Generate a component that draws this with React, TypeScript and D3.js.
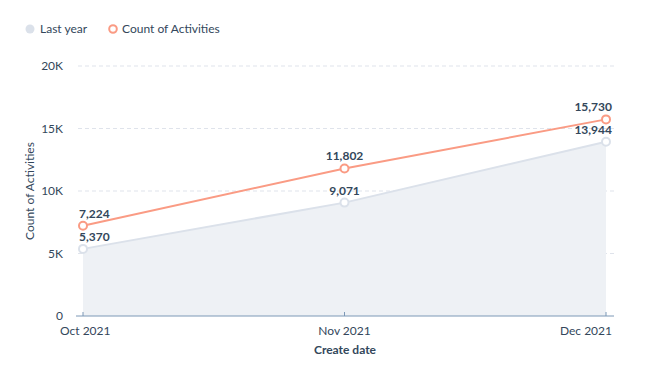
import * as d3 from "d3";

const months = ["Oct 2021", "Nov 2021", "Dec 2021"];
const lastYear = [5370, 9071, 13944];
const activities = [7224, 11802, 15730];
const yTicks = [0, 5000, 10000, 15000, 20000];

const width = 650;
const height = 387;
const font = "Lato, 'Open Sans', sans-serif";
const textColor = "#33475b";
const orange = "#fa9b84";
const grey = "#dbe1ea";

export default function App() {
  const x = d3.scalePoint().domain(months).range([83, 606]);
  const y = d3.scaleLinear().domain([0, 20000]).range([316, 66]);
  const fmtK = (v: number) => (v === 0 ? "0" : `${v / 1000}K`);
  const fmt = d3.format(",");

  const pts = (vals: number[]) => months.map((m, i) => [x(m) as number, y(vals[i])] as [number, number]);
  const line = d3.line();
  const area = d3
    .area<[number, number]>()
    .x((d) => d[0])
    .y0(y(0))
    .y1((d) => d[1]);

  const lyPts = pts(lastYear);
  const acPts = pts(activities);

  return (
    <svg
      width={width}
      height={height}
      style={{ position: "absolute", left: 0, top: 0 }}
      fontFamily={font}
    >
      {/* legend */}
      <g fontSize={12} fill={textColor}>
        <circle cx={30} cy={29} r={4.5} fill={grey} />
        <text x={40} y={33}>Last year</text>
        <circle cx={113} cy={29} r={3.8} fill="#fff" stroke={orange} strokeWidth={2} />
        <text x={122} y={33}>Count of Activities</text>
      </g>

      {/* grid */}
      {yTicks.slice(1).map((t) => (
        <line key={t} x1={78} x2={614} y1={y(t)} y2={y(t)} stroke="#dfe3eb" strokeDasharray="4,3" />
      ))}
      {yTicks.map((t) => (
        <text key={t} x={63} y={y(t) + 4} textAnchor="end" fontSize={12} fill={textColor}>
          {fmtK(t)}
        </text>
      ))}
      <text
        transform={`translate(34,${y(10000)}) rotate(-90)`}
        textAnchor="middle"
        fontSize={12}
        fill={textColor}
      >
        Count of Activities
      </text>

      {/* area & lines */}
      <path d={area(lyPts) ?? ""} fill="#eef1f5" />
      <path d={line(lyPts) ?? ""} fill="none" stroke={grey} strokeWidth={2} />
      <path d={line(acPts) ?? ""} fill="none" stroke={orange} strokeWidth={2} />

      {/* x axis */}
      <line x1={76} x2={614} y1={y(0)} y2={y(0)} stroke="#7c98b6" />
      {months.map((m) => (
        <g key={m}>
          <line x1={x(m)} x2={x(m)} y1={y(0) - 4} y2={y(0)} stroke="#7c98b6" />
          <text
            x={x(m)}
            y={335}
            textAnchor={m === months[0] ? "start" : m === months[2] ? "end" : "middle"}
            dx={m === months[0] ? -23 : m === months[2] ? 6 : 0}
            fontSize={12}
            fill={textColor}
          >
            {m}
          </text>
        </g>
      ))}
      <text x={345} y={354} textAnchor="middle" fontSize={12} fontWeight="bold" fill={textColor}>
        Create date
      </text>

      {/* points & labels */}
      {lyPts.map((p, i) => (
        <g key={"ly" + i}>
          <circle cx={p[0]} cy={p[1]} r={4} fill="#fff" stroke={grey} strokeWidth={2} />
          <text
            x={p[0]}
            y={p[1] - 8}
            textAnchor={i === 0 ? "start" : i === 2 ? "end" : "middle"}
            dx={i === 0 ? -4 : i === 2 ? 6 : 0}
            fontSize={12}
            fontWeight="bold"
            fill={textColor}
          >
            {fmt(lastYear[i])}
          </text>
        </g>
      ))}
      {acPts.map((p, i) => (
        <g key={"ac" + i}>
          <circle cx={p[0]} cy={p[1]} r={4} fill="#fff" stroke={orange} strokeWidth={2} />
          <text
            x={p[0]}
            y={p[1] - 8}
            textAnchor={i === 0 ? "start" : i === 2 ? "end" : "middle"}
            dx={i === 0 ? -4 : i === 2 ? 6 : 0}
            fontSize={12}
            fontWeight="bold"
            fill={textColor}
          >
            {fmt(activities[i])}
          </text>
        </g>
      ))}
    </svg>
  );
}
